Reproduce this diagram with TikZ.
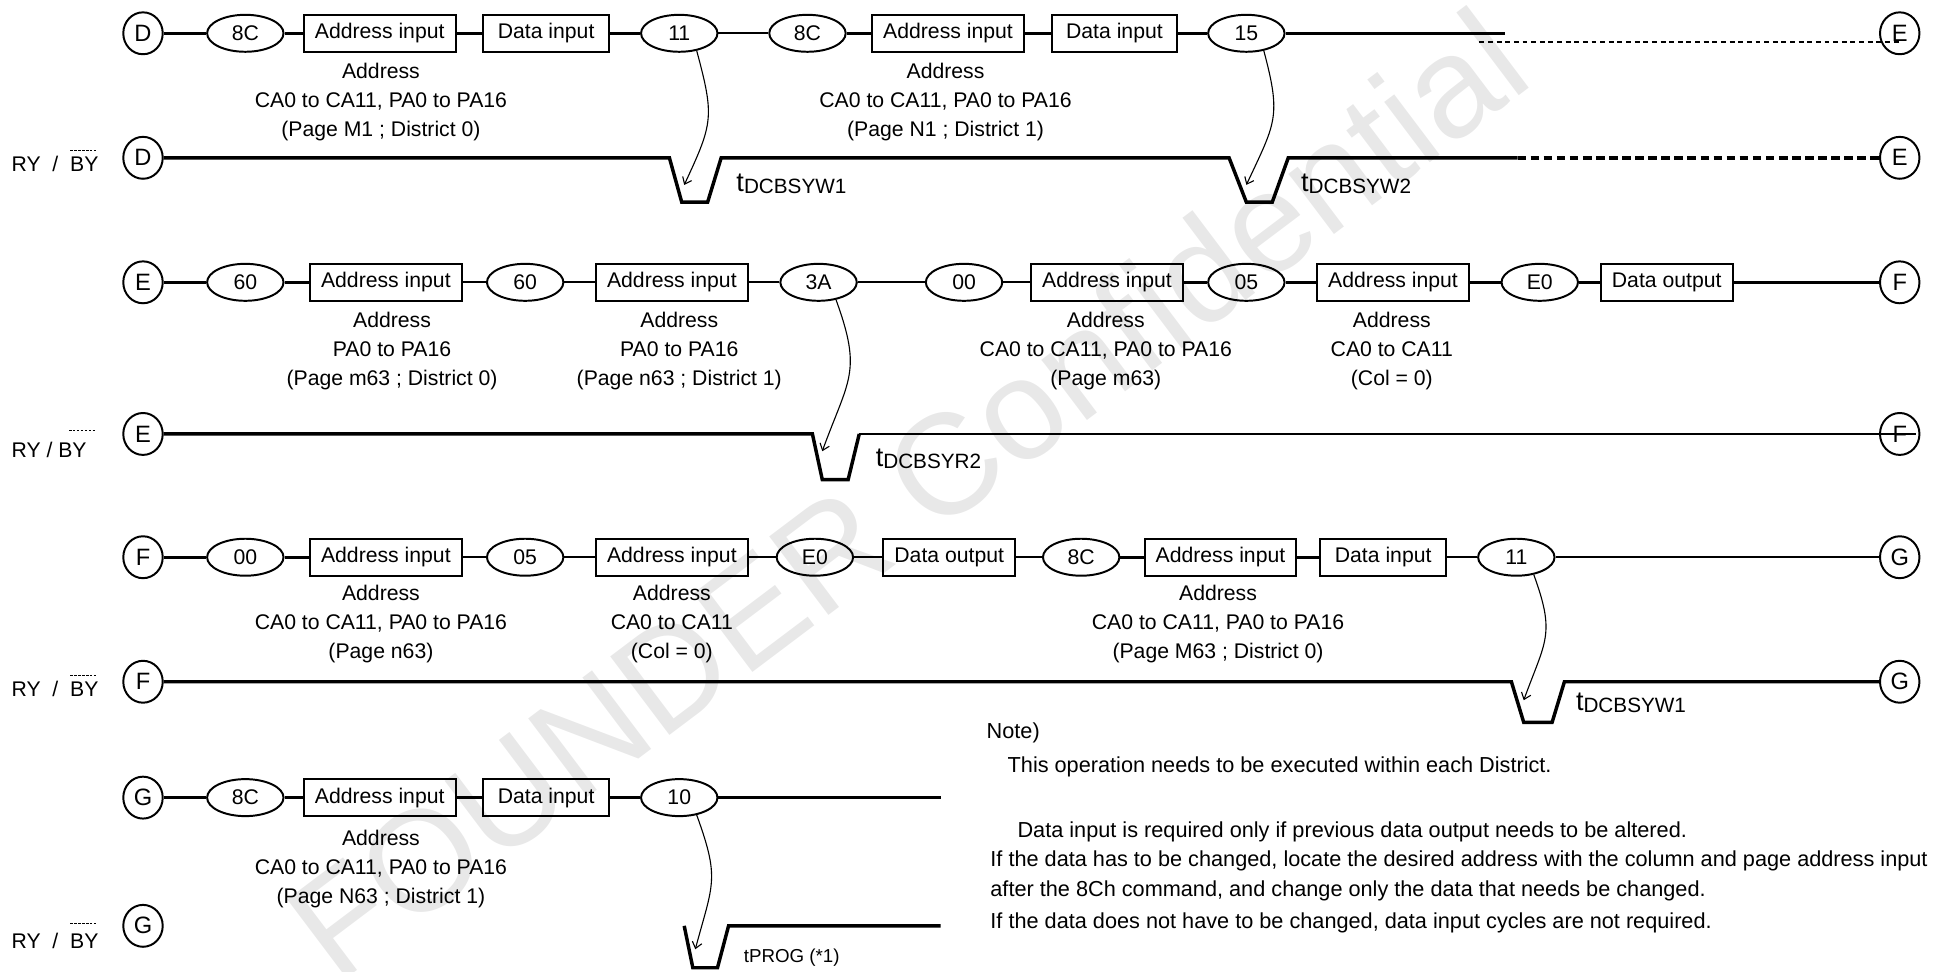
\documentclass[tikz,border=0pt]{standalone}
\usepackage{fontspec}
\setmainfont{Liberation Sans}
\usetikzlibrary{shapes.geometric,arrows.meta}

\newcommand{\tsub}[1]{{\fontsize{11}{11}\selectfont t}\raisebox{-1pt}{\fontsize{8.4}{9}\selectfont #1}}

\begin{document}
\begin{tikzpicture}[
    x=0.5pt, y=-0.5pt,
    every node/.style={font=\fontsize{8.6}{11.75}\selectfont},
    cmd/.style={draw, ellipse, line width=0.8pt, minimum width=31pt,
                minimum height=15pt, inner sep=0pt},
    box/.style={draw, line width=0.8pt, minimum height=15pt,
                inner xsep=4.5pt, inner ysep=0pt},
    datbox/.style={box, minimum width=51pt},
    link/.style={draw, ellipse, line width=0.8pt, minimum width=16pt,
                 minimum height=17pt, inner sep=0pt,
                 font=\fontsize{9.6}{11}\selectfont},
    addr/.style={align=center},
    sig/.style={anchor=west, inner sep=0pt},
    bus/.style={line width=1.2pt},
    busthin/.style={line width=0.7pt},
    wave/.style={line width=1.4pt},
    wavethin/.style={line width=0.7pt},
    hold/.style={line width=1.4pt, dash pattern=on 3.5pt off 1.8pt},
    holdthin/.style={line width=0.7pt, dash pattern=on 2pt off 1.5pt},
    tarrow/.style={line width=0.45pt, looseness=1.3,
                   -{Straight Barb[length=2.5pt,width=4pt]}},
    tlabel/.style={anchor=base west, inner sep=0pt},
    ovl/.style={line width=0.4pt, dash pattern=on 1pt off 0.6pt},
    txt/.style={anchor=base west, inner sep=0pt,
                font=\fontsize{8.8}{11}\selectfont}
  ]
  \useasboundingbox (0,0) rectangle (1568,788);

  % Marca d'agua
  \node[rotate=37, text=black!9, font=\fontsize{58}{60}\selectfont] (wm)
    at (735,400) {FOUNDER Confidential};

  % Linha 1 - comandos
  \node[link] (D1) at (116,27) {D};
  \node[cmd] (c8Ca) at (199,27) {8C};
  \node[box] (adrA) at (308,27) {Address input};
  \node[datbox] (datA) at (443,27) {Data input};
  \node[cmd] (c11a) at (551,27) {11};
  \node[cmd] (c8Cb) at (655,27) {8C};
  \node[box] (adrB) at (769,27) {Address input};
  \node[datbox] (datB) at (904,27) {Data input};
  \node[cmd] (c15) at (1011,27) {15};
  \node[link] (E1) at (1541,27) {E};
  \coordinate (end1) at (1221,27);
  \coordinate (hold1) at (1200,34);

  \draw[bus] (D1) -- (c8Ca) -- (adrA) -- (datA) -- (c11a);
  \draw[busthin] (c11a) -- (c8Cb);
  \draw[bus] (c8Cb) -- (adrB) -- (datB) -- (c15) -- (end1);
  \draw[holdthin] (hold1) -- (hold1 -| E1.center);

  \node[addr] (annA) at (309,83) {Address\\CA0 to CA11, PA0 to PA16\\(Page M1 ; District 0)};
  \node[addr] (annB) at (767,83) {Address\\CA0 to CA11, PA0 to PA16\\(Page N1 ; District 1)};

  % Linha 1 - RY/BY
  \node[sig] (ry1) at (9,133) {RY\ \ /\ \ BY};
  \draw[ovl] (57,122) -- (78,122);
  \node[link] (D2) at (116,128) {D};
  \node[link] (E2) at (1541,128) {E};
  \coordinate (tip1) at (555,150);
  \coordinate (tip2) at (1011,150);
  \draw[wave] (D2) -- (543,128) -- (553,164) -- (574,164) -- (585,128)
    -- (997,128) -- (1011,164) -- (1032,164) -- (1045,128) -- (1231,128);
  \draw[hold] (1231,128) -- (E2);
  \draw[tarrow] (c11a.-45) to[out=-75, in=65] (tip1);
  \draw[tarrow] (c15.-45) to[out=-75, in=65] (tip2);
  \node[tlabel] (t1) at (597,155) {\tsub{DCBSYW1}};
  \node[tlabel] (t2) at (1055,155) {\tsub{DCBSYW2}};

  % Linha 2 - comandos
  \node[link] (E3) at (116,229) {E};
  \node[cmd] (c60a) at (199,229) {60};
  \node[box] (adrC) at (313,229) {Address input};
  \node[cmd] (c60b) at (426,229) {60};
  \node[box] (adrD) at (545,229) {Address input};
  \node[cmd] (c3A) at (664,229) {3A};
  \node[cmd] (c00a) at (782,229) {00};
  \node[box] (adrE) at (898,229) {Address input};
  \node[cmd] (c05a) at (1011,229) {05};
  \node[box] (adrF) at (1130,229) {Address input};
  \node[cmd] (cE0a) at (1249,229) {E0};
  \node[box] (outA) at (1352,229) {Data output};
  \node[link] (F1) at (1541,229) {F};

  \draw[bus] (E3) -- (c60a) -- (adrC);
  \draw[busthin] (adrC) -- (c60b) -- (adrD) -- (c3A) -- (c00a) -- (adrE);
  \draw[bus] (adrE) -- (c05a) -- (adrF) -- (cE0a) -- (outA) -- (F1);

  \node[addr] (annC) at (318,285) {Address\\PA0 to PA16\\(Page m63 ; District 0)};
  \node[addr] (annD) at (551,285) {Address\\PA0 to PA16\\(Page n63 ; District 1)};
  \node[addr] (annE) at (897,285) {Address\\CA0 to CA11, PA0 to PA16\\(Page m63)};
  \node[addr] (annF) at (1129,285) {Address\\CA0 to CA11\\(Col = 0)};

  % Linha 2 - RY/BY
  \node[sig] (ry2) at (9,365) {RY / BY};
  \draw[ovl] (56,349) -- (78,349);
  \node[link] (E4) at (116,352) {E};
  \node[link] (F2) at (1541,352) {F};
  \coordinate (tip3) at (667,366);
  \draw[wave] (E4) -- (659,352) -- (667,389) -- (688,389) -- (697,352);
  \draw[wavethin] (697,352) -- ([xshift=-2pt]F2.east);
  \draw[tarrow] (c3A.-45) to[out=-70, in=70] (tip3);
  \node[tlabel] (t3) at (710,378) {\tsub{DCBSYR2}};

  % Linha 3 - comandos
  \node[link] (F3) at (116,452) {F};
  \node[cmd] (c00b) at (199,452) {00};
  \node[box] (adrG) at (313,452) {Address input};
  \node[cmd] (c05b) at (426,452) {05};
  \node[box] (adrH) at (545,452) {Address input};
  \node[cmd] (cE0b) at (661,452) {E0};
  \node[box] (outB) at (770,452) {Data output};
  \node[cmd] (c8Cc) at (877,452) {8C};
  \node[box] (adrI) at (990,452) {Address input};
  \node[datbox] (datC) at (1122,452) {Data input};
  \node[cmd] (c11b) at (1230,452) {11};
  \node[link] (G1) at (1541,452) {G};

  \draw[bus] (F3) -- (c00b) -- (adrG);
  \draw[busthin] (adrG) -- (c05b) -- (adrH) -- (cE0b) -- (outB) -- (c8Cc);
  \draw[bus] (c8Cc) -- (adrI) -- (datC);
  \draw[line width=0.9pt] (datC) -- (c11b) -- (G1);

  \node[addr] (annG) at (309,506) {Address\\CA0 to CA11, PA0 to PA16\\(Page n63)};
  \node[addr] (annH) at (545,506) {Address\\CA0 to CA11\\(Col = 0)};
  \node[addr] (annI) at (988,506) {Address\\CA0 to CA11, PA0 to PA16\\(Page M63 ; District 0)};

  % Linha 3 - RY/BY
  \node[sig] (ry3) at (9,559) {RY\ \ /\ \ BY};
  \draw[ovl] (57,548) -- (78,548);
  \node[link] (F4) at (116,553) {F};
  \node[link] (G2) at (1541,553) {G};
  \coordinate (tip5) at (1236,568);
  \draw[wave] (F4) -- (1226,553) -- (1236,586) -- (1259,586) -- (1269,553) -- (G2);
  \draw[tarrow] (c11b.-45) to[out=-70, in=70] (tip5);
  \node[tlabel] (t5) at (1278,576) {\tsub{DCBSYW1}};

  % Linha 4 - comandos
  \node[link] (G3) at (116,647) {G};
  \node[cmd] (c8Cd) at (199,647) {8C};
  \node[box] (adrJ) at (308,647) {Address input};
  \node[datbox] (datD) at (443,647) {Data input};
  \node[cmd] (c10) at (551,647) {10};
  \coordinate (end4) at (763,647);

  \draw[bus] (G3) -- (c8Cd) -- (adrJ) -- (datD) -- (c10) -- (end4);

  \node[addr] (annJ) at (309,705) {Address\\CA0 to CA11, PA0 to PA16\\(Page N63 ; District 1)};

  % Linha 4 - RY/BY
  \node[sig] (ry4) at (9,763) {RY\ \ /\ \ BY};
  \draw[ovl] (57,749) -- (78,749);
  \node[link] (G4) at (116,751) {G};
  \coordinate (tip7) at (564,770);
  \draw[wave] (555,751) -- (562,785) -- (582,785) -- (591,751) -- (763,751);
  \draw[tarrow] (c10.-45) to[out=-70, in=75] (tip7);
  \node[tlabel, font=\fontsize{7.6}{9}\selectfont] (t7) at (603,781) {tPROG (*1)};

  % Nota
  \node[txt] (nt0) at (800,599) {Note)};
  \node[txt] (nt1) at (817,627) {This operation needs to be executed within each District.};
  \node[txt] (nt2) at (825,679) {Data input is required only if previous data output needs to be altered.};
  \node[txt] (nt3) at (803,703) {If the data has to be changed, locate the desired address with the column and page address input};
  \node[txt] (nt4) at (803,727) {after the 8Ch command, and change only the data that needs be changed.};
  \node[txt] (nt5) at (803,753) {If the data does not have to be changed, data input cycles are not required.};
\end{tikzpicture}
\end{document}
